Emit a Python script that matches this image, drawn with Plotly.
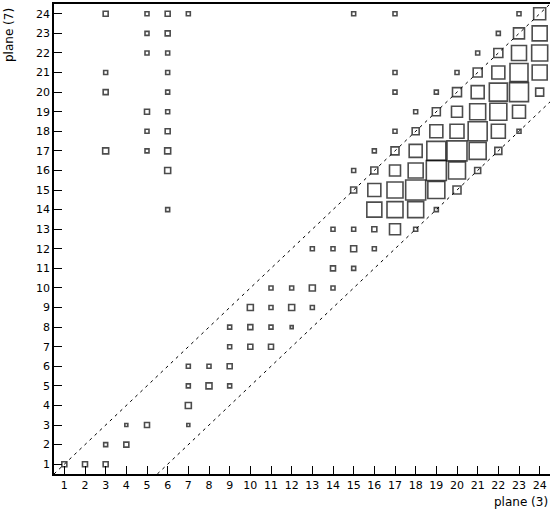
import plotly.graph_objects as go

# (x bin, y bin, box content)
xs = [3, 5, 6, 7, 15, 17, 23, 24,
      5, 6, 22, 23, 24,
      5, 6, 21, 22, 23, 24,
      3, 6, 17, 20, 21, 22, 23, 24,
      3, 6, 17, 19, 20, 21, 22, 23, 24,
      5, 6, 18, 19, 20, 21, 22, 23,
      5, 6, 17, 18, 19, 20, 21, 22, 23,
      3, 5, 6, 16, 17, 18, 19, 20, 21, 22,
      6, 15, 16, 17, 18, 19, 20, 21,
      15, 16, 17, 18, 19, 20,
      6, 16, 17, 18, 19,
      14, 15, 16, 17, 18,
      13, 14, 15, 16,
      14, 15,
      11, 12, 13, 14,
      10, 11, 12, 13,
      9, 10, 11, 12,
      9, 10, 11,
      7, 8, 9,
      7, 8, 9,
      7,
      4, 5, 7,
      3, 4,
      1, 2, 3]
ys = [24] * 8 + [23] * 5 + [22] * 6 + [21] * 8 + [20] * 9 + [19] * 8 + [18] * 9 + \
     [17] * 10 + [16] * 8 + [15] * 6 + [14] * 5 + [13] * 5 + [12] * 4 + [11] * 2 + \
     [10] * 4 + [9] * 4 + [8] * 4 + [7] * 3 + [6] * 3 + [5] * 3 + [4] + [3] * 3 + \
     [2] * 2 + [1] * 3
content = [5, 4, 5, 4, 4, 4, 4, 12,
           4, 5, 4, 11, 15,
           4, 4, 4, 9, 15, 16,
           4, 4, 4, 4, 9, 13, 18, 15,
           5, 4, 4, 4, 9, 13, 18, 19, 8,
           5, 4, 4, 8, 11, 16, 17, 13,
           4, 5, 4, 7, 13, 14, 19, 14, 4,
           6, 4, 6, 4, 8, 13, 19, 20, 17, 7,
           6, 4, 7, 11, 15, 20, 17, 6,
           6, 13, 16, 20, 17, 8,
           4, 15, 16, 16, 4,
           4, 4, 5, 11, 4,
           4, 4, 6, 4,
           5, 4,
           4, 4, 6, 4,
           6, 4, 6, 4,
           4, 5, 4, 3,
           4, 5, 5,
           4, 4, 5,
           4, 6, 4,
           6,
           3, 5, 3,
           4, 5,
           5, 5, 5]

cmax = max(content)
sizes = [20 * c / cmax for c in content]

fig = go.Figure()
fig.add_trace(go.Scatter(
    x=xs, y=ys, mode="markers",
    marker=dict(symbol="square-open", size=sizes, color="black", line=dict(width=1.6, color="black")),
    hoverinfo="skip"
))

# diagonal band limits
for off, x0 in [(0, 0.5), (5, 5.5)]:
    fig.add_trace(go.Scatter(
        x=[x0, 24.5], y=[x0 - off, 24.5 - off], mode="lines",
        line=dict(color="black", width=1, dash="3px,4px"), hoverinfo="skip"
    ))

axis = dict(range=[0.5, 24.5], tickmode="linear", tick0=1, dtick=1, automargin=False,
            ticks="inside", ticklen=8, tickcolor="black", showline=True, linecolor="black",
            linewidth=1.5, mirror=True, showgrid=False, zeroline=False,
            tickfont=dict(family="DejaVu Sans", size=11, color="black"))

fig.update_layout(
    width=550, height=513,
    margin=dict(l=54, r=0, t=4, b=39),
    plot_bgcolor="white", paper_bgcolor="white",
    showlegend=False,
    xaxis=axis, yaxis=axis,
    annotations=[
        dict(text="plane (3)", x=1, y=0, xref="paper", yref="paper", xanchor="right",
             yanchor="top", yshift=-19, showarrow=False,
             font=dict(family="DejaVu Sans", size=12, color="black")),
        dict(text="plane (7)", x=0, y=1, xref="paper", yref="paper", xanchor="right",
             yanchor="top", xshift=-36, yshift=-2, textangle=-90, showarrow=False,
             font=dict(family="DejaVu Sans", size=12, color="black")),
    ],
)

fig.write_html("out.html", config={"displayModeBar": False})

# drop the browser's default page margin so the figure fills the window
with open("out.html") as f:
    html = f.read()
html = html.replace("<body>", '<body style="margin:0;overflow:hidden">', 1)
with open("out.html", "w") as f:
    f.write(html)
